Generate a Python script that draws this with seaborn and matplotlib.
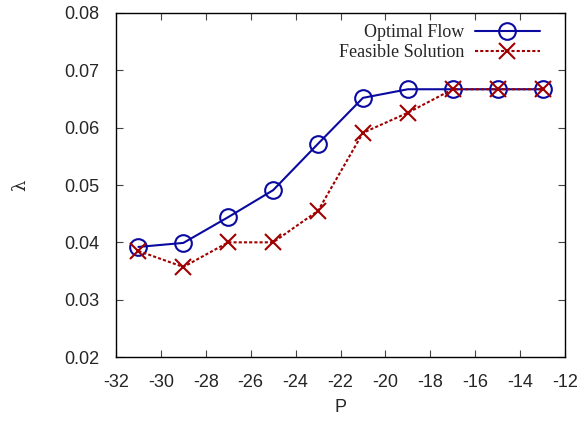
import matplotlib
matplotlib.use("Agg")
import matplotlib.pyplot as plt
import seaborn as sns
import pandas as pd

P = [-31, -29, -27, -25, -23, -21, -19, -17, -15, -13]
optimal = [0.0392, 0.0399, 0.0444, 0.0491, 0.0572, 0.0652, 0.0667, 0.0667, 0.0667, 0.0667]
feasible = [0.0385, 0.0357, 0.0400, 0.0400, 0.0455, 0.0591, 0.0626, 0.0667, 0.0667, 0.0667]
xticks = [-32, -30, -28, -26, -24, -22, -20, -18, -16, -14, -12]
yticks = [0.02, 0.03, 0.04, 0.05, 0.06, 0.07, 0.08]

sns.set_style("ticks")
plt.rcParams['font.family'] = ['Liberation Sans', 'DejaVu Sans']

fig = plt.figure(figsize=(5.87, 4.23), dpi=100)
ax = fig.add_axes([116/587, 1-357/423, (565-116)/587, (357-13)/423])

df = pd.DataFrame({"P": P, "opt": optimal, "fea": feasible})
blue = "#0a0aa0"
red = "#a00000"
sns.lineplot(data=df, x="P", y="opt", ax=ax, color=blue, lw=1.5,
             marker="o", markersize=12, markerfacecolor="none",
             markeredgecolor=blue, markeredgewidth=1.5, label="Optimal Flow")
sns.lineplot(data=df, x="P", y="fea", ax=ax, color=red, lw=1.5,
             linestyle=(0, (1.5, 1)), marker="x", markersize=12,
             markeredgecolor=red, markerfacecolor=red,
             markeredgewidth=1.5, label="Feasible Solution")

ax.set_xlim(-32, -12)
ax.set_ylim(0.02, 0.08)
ax.set_xticks(xticks)
ax.set_xticklabels([str(t) for t in xticks])
ax.set_yticks(yticks)
ax.set_yticklabels([f"{t:.2f}" for t in yticks])
ax.tick_params(direction="in", top=True, right=True, length=5, labelsize=13,
               color="#444444", width=0.8)
ax.tick_params(axis="x", pad=12)
ax.tick_params(axis="y", pad=12)
for s in ax.spines.values():
    s.set_color("black")
    s.set_linewidth(1)
ax.set_xlabel("P", fontsize=13, labelpad=6)
ax.set_ylabel("λ", fontsize=13, labelpad=25, family=['DejaVu Serif'])

leg = ax.legend(loc="upper right", frameon=False, markerfirst=False,
                bbox_to_anchor=(1 - 18/449, 0.988),
                prop={"family": "Liberation Serif", "size": 13},
                handlelength=3.6, handletextpad=0.6, borderaxespad=0.0,
                labelspacing=0.15)

fig.savefig("out.png", dpi=100)
